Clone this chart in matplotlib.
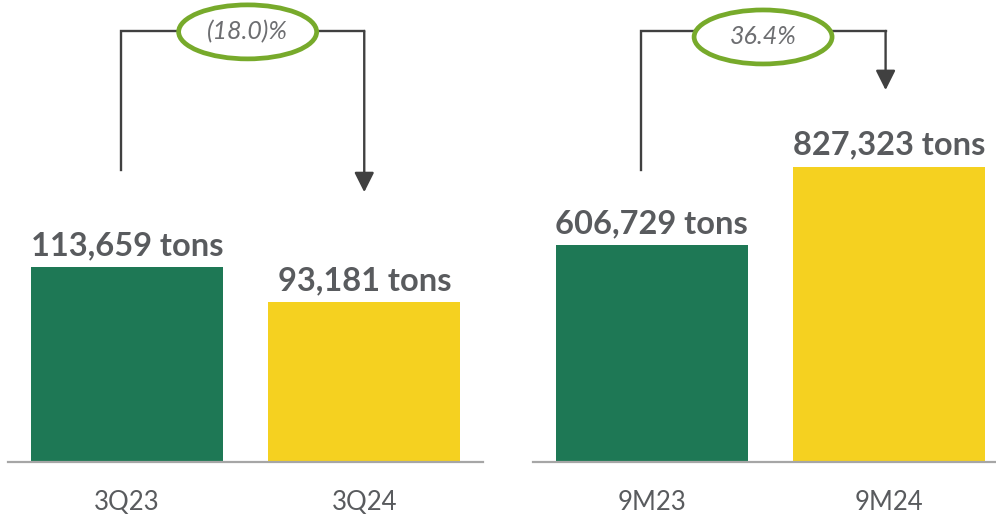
"""
Sales volume comparison: 3Q23 vs 3Q24 and 9M23 vs 9M24, with change callouts.
"""

import matplotlib.pyplot as plt
import matplotlib.transforms as mtransforms
from matplotlib.patches import Ellipse

plt.rcParams["font.family"] = ["Lato", "DejaVu Sans"]

# data
quarter_labels = ["3Q23", "3Q24"]
quarter_tons = [113659, 93181]
quarter_change = "(18.0)%"

ytd_labels = ["9M23", "9M24"]
ytd_tons = [606729, 827323]
ytd_change = "36.4%"

GREEN = "#1e7855"
YELLOW = "#f5d120"
OVAL = "#77aa2b"
LINE = "#404040"
TEXT = "#595b5e"
W, H = 996, 514


def _panel(fig, left_px, right_px, xmax, labels, values, ymax, change,
           bracket_x, bracket_bottom, arrow_tip, oval_xy):
    base = 462
    ax = fig.add_axes([left_px / W, 1 - base / H, (right_px - left_px) / W, base / H])
    xs = list(range(len(labels)))
    ax.bar(xs, values, width=0.81, color=[GREEN, YELLOW], zorder=2)
    ax.set_xlim(-0.5, xmax)
    ax.set_ylim(0, ymax)
    for x, v in zip(xs, values):
        ax.annotate(f"{v:,} tons", (x, v), xytext=(0, 5), textcoords="offset points",
                    ha="center", va="bottom", fontsize=23.5, fontweight="bold", color=TEXT)

    ax.set_xticks(xs, labels)
    ax.tick_params(axis="x", length=0, pad=20, labelsize=18.5, labelcolor=TEXT)
    ax.set_yticks([])
    for s in ("left", "right", "top"):
        ax.spines[s].set_visible(False)
    ax.spines["bottom"].set_color("#a6a6a6")
    ax.spines["bottom"].set_linewidth(1.6)

    # bracket with arrow, x in data units, y in axes fraction
    trans = mtransforms.blended_transform_factory(ax.transData, ax.transAxes)
    x0, x1 = bracket_x
    top = 0.933
    ax.plot([x0, x0, x1], [bracket_bottom, top, top], color=LINE, lw=1.7,
            transform=trans, solid_joinstyle="miter", zorder=3)
    ax.annotate("", xy=(x1, arrow_tip), xycoords=trans, xytext=(x1, top), textcoords=trans,
                arrowprops=dict(arrowstyle="-|>,head_length=0.6,head_width=0.3",
                                mutation_scale=20, color=LINE, lw=1.7,
                                shrinkA=0, shrinkB=0), zorder=3)
    oval = Ellipse(oval_xy, width=138 / 237.5, height=54 / base, transform=trans,
                   facecolor="white", edgecolor=OVAL, lw=3.4, zorder=4)
    ax.add_patch(oval)
    ax.text(oval_xy[0], oval_xy[1], change, transform=trans, ha="center", va="center",
            fontsize=18, style="italic", fontweight="normal", color="#6d6e71", zorder=5)
    return ax


fig = plt.figure(figsize=(W / 100, H / 100), dpi=100)

_panel(fig, 8, 483, 1.5, quarter_labels, quarter_tons, 269300, quarter_change,
       bracket_x=(-0.025, 1.0), bracket_bottom=0.632, arrow_tip=0.584,
       oval_xy=(0.509, 0.931))
_panel(fig, 533, 996, 1.45, ytd_labels, ytd_tons, 1293600, ytd_change,
       bracket_x=(-0.044, 0.985), bracket_bottom=0.632, arrow_tip=0.805,
       oval_xy=(0.469, 0.920))

fig.savefig("out.png", dpi=100)
